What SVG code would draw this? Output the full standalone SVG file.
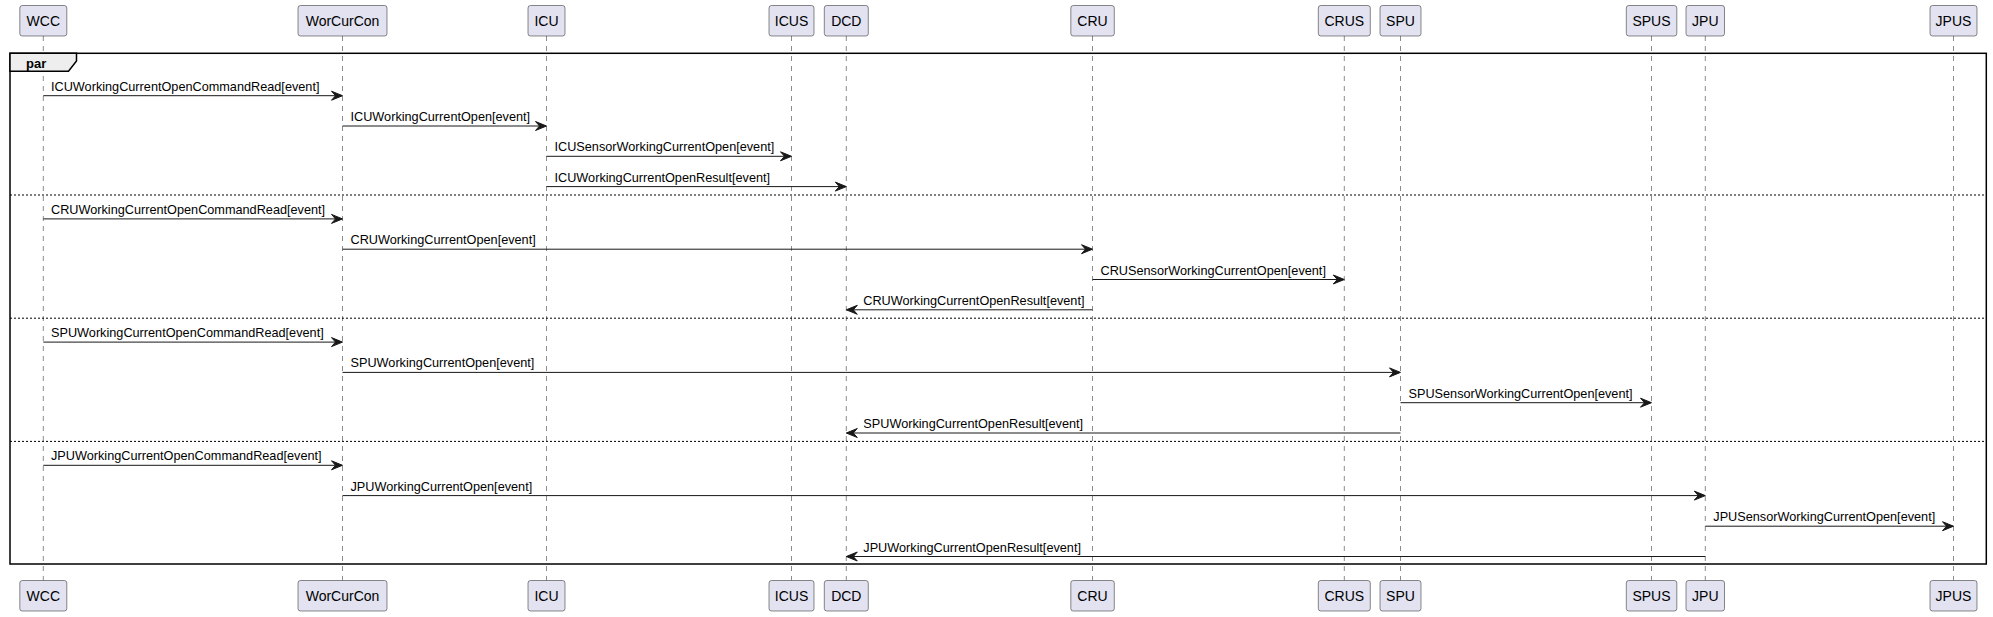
<svg xmlns="http://www.w3.org/2000/svg" width="1993" height="617" viewBox="0 0 1993 617">
<defs>
<style>
.pbox{fill:#E2E2F0;stroke:#181818;stroke-width:0.5;}
.ptxt{font-family:"Liberation Sans",Arial,sans-serif;font-size:14px;fill:#000;text-anchor:middle;}
.life{stroke:#181818;stroke-width:0.5;stroke-dasharray:5,5;fill:none;}
.msg{stroke:#181818;stroke-width:1;fill:none;}
.head{fill:#181818;stroke:#181818;stroke-width:1;}
.mtxt{font-family:"Liberation Sans",Arial,sans-serif;font-size:12.7px;fill:#000;}
.frame{fill:none;stroke:#000;stroke-width:1.5;}
.div{stroke:#000;stroke-width:1;stroke-dasharray:2,2;fill:none;}
</style>
</defs>
<rect width="1993" height="617" fill="#FFFFFF"/>
<g id="lifelines">
<line class="life" x1="43.3" y1="36" x2="43.3" y2="580.5"/>
<line class="life" x1="342.5" y1="36" x2="342.5" y2="580.5"/>
<line class="life" x1="546.5" y1="36" x2="546.5" y2="580.5"/>
<line class="life" x1="791.5" y1="36" x2="791.5" y2="580.5"/>
<line class="life" x1="846.3" y1="36" x2="846.3" y2="580.5"/>
<line class="life" x1="1092.5" y1="36" x2="1092.5" y2="580.5"/>
<line class="life" x1="1344.3" y1="36" x2="1344.3" y2="580.5"/>
<line class="life" x1="1400.5" y1="36" x2="1400.5" y2="580.5"/>
<line class="life" x1="1651.5" y1="36" x2="1651.5" y2="580.5"/>
<line class="life" x1="1705.3" y1="36" x2="1705.3" y2="580.5"/>
<line class="life" x1="1953.5" y1="36" x2="1953.5" y2="580.5"/>
</g>
<g id="frame-par">
<rect class="frame" x="10" y="53.3" width="1976.3" height="510.7"/>
<path d="M10,53.3 L76.5,53.3 L76.5,61 L68.5,71.3 L10,71.3 Z" fill="#EEEEEE" stroke="#000" stroke-width="1.5"/>
<text x="26" y="67.5" style="font-family:'Liberation Sans',Arial,sans-serif;font-size:13px;font-weight:bold;fill:#000;">par</text>
<line class="div" x1="10" y1="195" x2="1986.3" y2="195"/>
<line class="div" x1="10" y1="318.2" x2="1986.3" y2="318.2"/>
<line class="div" x1="10" y1="441.4" x2="1986.3" y2="441.4"/>
</g>
<g id="p-WCC"><rect class="pbox" x="19.8" y="5.5" width="47" height="30.5" rx="2.5"/><text class="ptxt" x="43.3" y="26">WCC</text>
<rect class="pbox" x="19.8" y="580.5" width="47" height="30.5" rx="2.5"/><text class="ptxt" x="43.3" y="601">WCC</text></g>
<g id="p-WorCurCon"><rect class="pbox" x="298" y="5.5" width="89" height="30.5" rx="2.5"/><text class="ptxt" x="342.5" y="26">WorCurCon</text>
<rect class="pbox" x="298" y="580.5" width="89" height="30.5" rx="2.5"/><text class="ptxt" x="342.5" y="601">WorCurCon</text></g>
<g id="p-ICU"><rect class="pbox" x="528" y="5.5" width="37" height="30.5" rx="2.5"/><text class="ptxt" x="546.5" y="26">ICU</text>
<rect class="pbox" x="528" y="580.5" width="37" height="30.5" rx="2.5"/><text class="ptxt" x="546.5" y="601">ICU</text></g>
<g id="p-ICUS"><rect class="pbox" x="769" y="5.5" width="45" height="30.5" rx="2.5"/><text class="ptxt" x="791.5" y="26">ICUS</text>
<rect class="pbox" x="769" y="580.5" width="45" height="30.5" rx="2.5"/><text class="ptxt" x="791.5" y="601">ICUS</text></g>
<g id="p-DCD"><rect class="pbox" x="824.3" y="5.5" width="44" height="30.5" rx="2.5"/><text class="ptxt" x="846.3" y="26">DCD</text>
<rect class="pbox" x="824.3" y="580.5" width="44" height="30.5" rx="2.5"/><text class="ptxt" x="846.3" y="601">DCD</text></g>
<g id="p-CRU"><rect class="pbox" x="1070.8" y="5.5" width="43.5" height="30.5" rx="2.5"/><text class="ptxt" x="1092.5" y="26">CRU</text>
<rect class="pbox" x="1070.8" y="580.5" width="43.5" height="30.5" rx="2.5"/><text class="ptxt" x="1092.5" y="601">CRU</text></g>
<g id="p-CRUS"><rect class="pbox" x="1318.3" y="5.5" width="52" height="30.5" rx="2.5"/><text class="ptxt" x="1344.3" y="26">CRUS</text>
<rect class="pbox" x="1318.3" y="580.5" width="52" height="30.5" rx="2.5"/><text class="ptxt" x="1344.3" y="601">CRUS</text></g>
<g id="p-SPU"><rect class="pbox" x="1380" y="5.5" width="41" height="30.5" rx="2.5"/><text class="ptxt" x="1400.5" y="26">SPU</text>
<rect class="pbox" x="1380" y="580.5" width="41" height="30.5" rx="2.5"/><text class="ptxt" x="1400.5" y="601">SPU</text></g>
<g id="p-SPUS"><rect class="pbox" x="1626.3" y="5.5" width="50.5" height="30.5" rx="2.5"/><text class="ptxt" x="1651.5" y="26">SPUS</text>
<rect class="pbox" x="1626.3" y="580.5" width="50.5" height="30.5" rx="2.5"/><text class="ptxt" x="1651.5" y="601">SPUS</text></g>
<g id="p-JPU"><rect class="pbox" x="1686" y="5.5" width="38.5" height="30.5" rx="2.5"/><text class="ptxt" x="1705.3" y="26">JPU</text>
<rect class="pbox" x="1686" y="580.5" width="38.5" height="30.5" rx="2.5"/><text class="ptxt" x="1705.3" y="601">JPU</text></g>
<g id="p-JPUS"><rect class="pbox" x="1930" y="5.5" width="47" height="30.5" rx="2.5"/><text class="ptxt" x="1953.5" y="26">JPUS</text>
<rect class="pbox" x="1930" y="580.5" width="47" height="30.5" rx="2.5"/><text class="ptxt" x="1953.5" y="601">JPUS</text></g>
<g id="connectors">
<!-- group 1 -->
<line class="msg" x1="43.3" y1="95.7" x2="341.5" y2="95.7"/><polygon class="head" points="331.5,91.2 342.5,95.7 331.5,100.2 335.5,95.7"/>
<text class="mtxt" x="51" y="90.7">ICUWorkingCurrentOpenCommandRead[event]</text>
<line class="msg" x1="342.5" y1="126" x2="545.5" y2="126"/><polygon class="head" points="535.5,121.5 546.5,126 535.5,130.5 539.5,126"/>
<text class="mtxt" x="350.5" y="121">ICUWorkingCurrentOpen[event]</text>
<line class="msg" x1="546.5" y1="156.3" x2="790.5" y2="156.3"/><polygon class="head" points="780.5,151.8 791.5,156.3 780.5,160.8 784.5,156.3"/>
<text class="mtxt" x="554.5" y="151.3">ICUSensorWorkingCurrentOpen[event]</text>
<line class="msg" x1="546.5" y1="186.6" x2="845.3" y2="186.6"/><polygon class="head" points="835.3,182.1 846.3,186.6 835.3,191.1 839.3,186.6"/>
<text class="mtxt" x="554.5" y="181.6">ICUWorkingCurrentOpenResult[event]</text>
<!-- group 2 -->
<line class="msg" x1="43.3" y1="218.9" x2="341.5" y2="218.9"/><polygon class="head" points="331.5,214.4 342.5,218.9 331.5,223.4 335.5,218.9"/>
<text class="mtxt" x="51" y="213.9">CRUWorkingCurrentOpenCommandRead[event]</text>
<line class="msg" x1="342.5" y1="249.2" x2="1091.5" y2="249.2"/><polygon class="head" points="1081.5,244.7 1092.5,249.2 1081.5,253.7 1085.5,249.2"/>
<text class="mtxt" x="350.5" y="244.2">CRUWorkingCurrentOpen[event]</text>
<line class="msg" x1="1092.5" y1="279.5" x2="1343.3" y2="279.5"/><polygon class="head" points="1333.3,275 1344.3,279.5 1333.3,284 1337.3,279.5"/>
<text class="mtxt" x="1100.5" y="274.5">CRUSensorWorkingCurrentOpen[event]</text>
<line class="msg" x1="1092.5" y1="309.8" x2="847.3" y2="309.8"/><polygon class="head" points="857.3,305.3 846.3,309.8 857.3,314.3 853.3,309.8"/>
<text class="mtxt" x="863.3" y="304.8">CRUWorkingCurrentOpenResult[event]</text>
<!-- group 3 -->
<line class="msg" x1="43.3" y1="342.1" x2="341.5" y2="342.1"/><polygon class="head" points="331.5,337.6 342.5,342.1 331.5,346.6 335.5,342.1"/>
<text class="mtxt" x="51" y="337.1">SPUWorkingCurrentOpenCommandRead[event]</text>
<line class="msg" x1="342.5" y1="372.4" x2="1399.5" y2="372.4"/><polygon class="head" points="1389.5,367.9 1400.5,372.4 1389.5,376.9 1393.5,372.4"/>
<text class="mtxt" x="350.5" y="367.4">SPUWorkingCurrentOpen[event]</text>
<line class="msg" x1="1400.5" y1="402.7" x2="1650.5" y2="402.7"/><polygon class="head" points="1640.5,398.2 1651.5,402.7 1640.5,407.2 1644.5,402.7"/>
<text class="mtxt" x="1408.5" y="397.7">SPUSensorWorkingCurrentOpen[event]</text>
<line class="msg" x1="1400.5" y1="433" x2="847.3" y2="433"/><polygon class="head" points="857.3,428.5 846.3,433 857.3,437.5 853.3,433"/>
<text class="mtxt" x="863.3" y="428">SPUWorkingCurrentOpenResult[event]</text>
<!-- group 4 -->
<line class="msg" x1="43.3" y1="465.3" x2="341.5" y2="465.3"/><polygon class="head" points="331.5,460.8 342.5,465.3 331.5,469.8 335.5,465.3"/>
<text class="mtxt" x="51" y="460.3">JPUWorkingCurrentOpenCommandRead[event]</text>
<line class="msg" x1="342.5" y1="495.6" x2="1704.3" y2="495.6"/><polygon class="head" points="1694.3,491.1 1705.3,495.6 1694.3,500.1 1698.3,495.6"/>
<text class="mtxt" x="350.5" y="490.6">JPUWorkingCurrentOpen[event]</text>
<line class="msg" x1="1705.3" y1="526.2" x2="1952.5" y2="526.2"/><polygon class="head" points="1942.5,521.7 1953.5,526.2 1942.5,530.7 1946.5,526.2"/>
<text class="mtxt" x="1713.3" y="521.2">JPUSensorWorkingCurrentOpen[event]</text>
<line class="msg" x1="1705.3" y1="556.5" x2="847.3" y2="556.5"/><polygon class="head" points="857.3,552 846.3,556.5 857.3,561 853.3,556.5"/>
<text class="mtxt" x="863.3" y="551.5">JPUWorkingCurrentOpenResult[event]</text>
</g>
</svg>
